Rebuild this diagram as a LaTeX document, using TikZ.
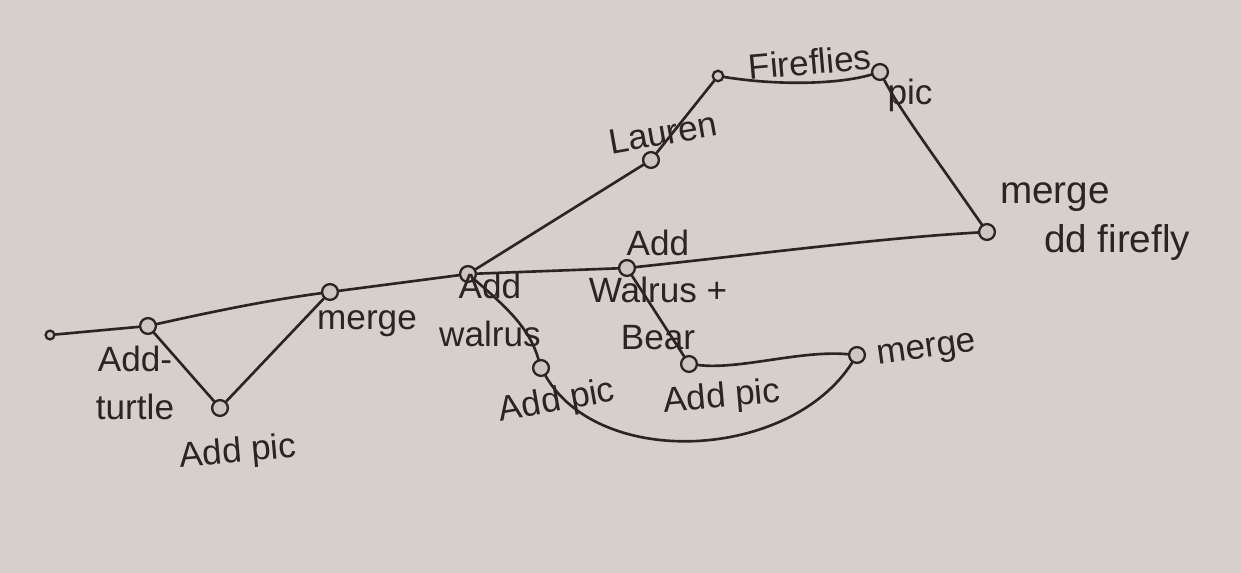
\documentclass[tikz,border=0pt]{standalone}
\usepackage{fontspec}
\setmainfont{Liberation Sans}
\definecolor{inkc}{RGB}{45,35,35}
\definecolor{paper}{RGB}{214,208,204}
\definecolor{dotfill}{RGB}{205,198,194}
\begin{document}
\begin{tikzpicture}[x=0.02cm,y=-0.02cm,
  ink/.style={draw=inkc, line width=1.5pt, line cap=round, line join=round},
  commit/.style={circle, draw=inkc, line width=1.3pt, fill=dotfill, inner sep=0pt, minimum size=9pt},
  lbl/.style={text=inkc, font=\fontsize{20}{27}\selectfont, align=center, inner sep=1pt}]
\fill[paper] (0,0) rectangle (1241,573);
\useasboundingbox (0,0) rectangle (1241,573);
% commits
\node[commit, minimum size=5pt] (s) at (50,335) {};
\node[commit] (a) at (148,326) {};
\node[commit] (b) at (220,408) {};
\node[commit] (c) at (330,292) {};
\node[commit] (d) at (468,274) {};
\node[commit] (e) at (651,160) {};
\node[commit, minimum size=6pt] (f) at (718,76) {};
\node[commit] (g) at (880,72) {};
\node[commit] (h) at (987,232) {};
\node[commit] (i) at (627,268) {};
\node[commit] (j) at (541,368) {};
\node[commit] (k) at (689,364) {};
\node[commit] (l) at (857,355) {};
% connectors
\begin{scope}[ink]
\draw (s) -- (a);
\draw (a) .. controls (220,310) and (270,300) .. (c);
\draw (a) -- (b);
\draw (b) -- (c);
\draw (c) -- (d);
\draw (d) -- (e);
\draw (e) -- (f);
\draw (f) .. controls (780,86) and (840,84) .. (g);
\draw (g) .. controls (900,110) and (930,150) .. (h);
\draw (d) -- (i);
\draw (i) .. controls (750,255) and (880,238) .. (h);
\draw (d) .. controls (510,310) and (530,330) .. (j);
\draw (j) .. controls (600,470) and (790,460) .. (l);
\draw (i) -- (k);
\draw (k) .. controls (740,370) and (800,350) .. (l);
\end{scope}
% labels
\node[lbl] (la) at (135,383) {Add-\\turtle};
\node[lbl, rotate=5] (lb) at (238,453) {Add pic};
\node[lbl] (lc) at (367,324) {merge};
\node[lbl] (ld) at (490,310) {Add\\walrus};
\node[lbl, rotate=10] (le) at (663,133) {Lauren};
\node[lbl, rotate=5] (lf) at (810,62) {Fireflies};
\node[lbl] (lg) at (910,95) {pic};
\node[lbl, align=left, anchor=west, font=\fontsize{22}{28}\selectfont] (lh) at (998,222) {merge\\\hspace*{25pt}dd firefly};
\node[lbl] (li) at (658,290) {Add\\Walrus +\\Bear};
\node[lbl, rotate=10] (lj) at (557,402) {Add pic};
\node[lbl, rotate=5] (lk) at (722,398) {Add pic};
\node[lbl, rotate=8] (ll) at (927,352) {merge};
\end{tikzpicture}
\end{document}
